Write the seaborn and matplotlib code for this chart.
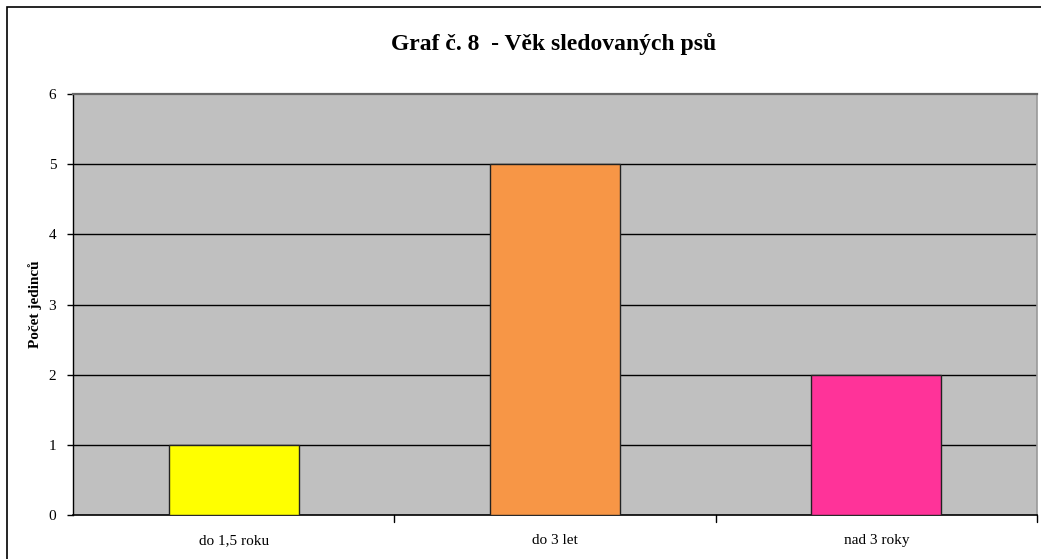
import matplotlib
matplotlib.use("Agg")
import matplotlib.pyplot as plt
import seaborn as sns
import pandas as pd
from matplotlib.patches import Rectangle

categories = ["do 1,5 roku", "do 3 let", "nad 3 roky"]
values = [1, 5, 2]
colors = ["#FFFF00", "#F79646", "#FF3399"]
title = "Graf č. 8  - Věk sledovaných psů"
ylabel = "Počet jedinců"
yticks = [0, 1, 2, 3, 4, 5, 6]

sns.set_theme(style="white")
plt.rcParams['font.family'] = ['Liberation Serif', 'DejaVu Serif']
plt.rcParams.update({"text.color": "black", "axes.labelcolor": "black",
                     "xtick.color": "black", "ytick.color": "black"})

df = pd.DataFrame({"cat": categories, "val": values})

fig = plt.figure(figsize=(10.41, 5.59), dpi=100)
fig.patch.set_facecolor("white")
fig.patches.append(Rectangle((0.007, -0.01), 1.05, 1.0 - 0.012 + 0.01, transform=fig.transFigure,
                             fill=False, edgecolor="black", linewidth=1.2, zorder=0))
ax = fig.add_axes([0.0701, 0.0787, 0.926, 0.7531])
ax.set_facecolor("#C0C0C0")

sns.barplot(data=df, x="cat", y="val", hue="cat", palette=colors, legend=False,
            saturation=1, width=0.405, edgecolor="#222222", linewidth=1.0, ax=ax, zorder=3)

ax.set_ylim(0, 6)
ax.set_xlim(-0.5, 2.5)
ax.set_yticks(yticks)
ax.set_yticklabels([str(t) for t in yticks], fontsize=11)
ax.set_xticks([0, 1, 2])
ax.set_xticklabels(categories, fontsize=11)
ax.tick_params(axis="x", length=0, pad=14)
ax.tick_params(axis="y", length=4, width=1, direction="out", left=True, pad=8, color="black")
for b in [0.5, 1.5, 2.5]:
    ax.plot([b, b], [0, -0.1], color="black", lw=1, clip_on=False, zorder=5)
for t in yticks[1:-1]:
    ax.axhline(t, color="black", lw=1, zorder=1)

ax.spines["top"].set_color("#666666")
ax.spines["top"].set_linewidth(1.6)
ax.spines["right"].set_color("#999999")
ax.spines["right"].set_linewidth(1.2)
ax.spines["left"].set_color("black")
ax.spines["bottom"].set_color("black")
ax.spines["left"].set_linewidth(1)
ax.spines["bottom"].set_linewidth(1.2)

ax.set_xlabel("")
ax.set_ylabel(ylabel, fontsize=11, fontweight="bold", labelpad=5)
fig.text(0.532, 0.921, title, ha="center", va="center", fontsize=17, fontweight="bold")

fig.savefig("out.png", dpi=100)
